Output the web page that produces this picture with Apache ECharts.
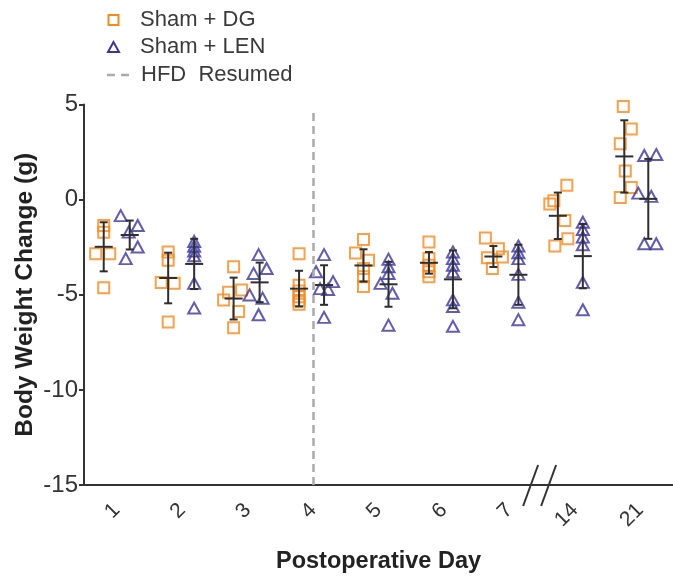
<!DOCTYPE html>
<html>
<head>
<meta charset="utf-8">
<script src="https://cdn.jsdelivr.net/npm/echarts@6/dist/echarts.min.js"></script>
<style>
html,body{margin:0;padding:0;background:#fff;}
#chart{width:673px;height:579px;}
</style>
</head>
<body>
<div id="chart"></div>
<script>
const days = ['1','2','3','4','5','6','7','14','21'];
const yTicks = [-15, -10, -5, 0, 5];

const dgValues = [
  [-1.36,-1.71,-2.84,-2.84,-4.63],
  [-2.75,-3.19,-4.35,-4.40,-6.43],
  [-3.53,-4.75,-4.87,-5.27,-5.88,-6.74],
  [-2.84,-4.50,-4.80,-5.10,-5.30,-5.50],
  [-2.09,-2.80,-3.19,-3.62,-4.05,-4.57],
  [-2.23,-3.10,-3.45,-3.79,-4.05],
  [-2.02,-2.58,-3.06,-3.01,-3.62],
  [0.76,-0.06,-0.23,-1.10,-2.06,-2.44],
  [4.89,3.71,2.94,1.50,0.64,0.11]
];
const lenValues = [
  [-0.84,-1.36,-1.71,-2.49,-3.10],
  [-2.20,-2.45,-2.70,-2.95,-4.40,-5.70],
  [-2.89,-3.62,-3.88,-5.01,-5.18,-6.05],
  [-2.89,-3.79,-4.31,-4.68,-4.72,-6.19],
  [-3.13,-3.53,-3.88,-4.40,-4.92,-6.60],
  [-2.75,-3.10,-3.45,-3.79,-5.27,-5.62,-6.66],
  [-2.44,-2.79,-3.10,-3.93,-5.39,-6.31],
  [-1.19,-1.57,-1.97,-2.37,-4.35,-5.79],
  [2.32,2.37,0.34,0.17,-2.32,-2.32]
];
const dgMean = [-2.48,-4.12,-5.20,-4.68,-3.46,-3.32,-2.99,-0.85,2.27];
const dgSD   = [1.29,1.33,1.10,0.94,0.85,0.57,0.55,1.22,1.90];
const lenMean = [-1.86,-3.38,-4.35,-4.49,-4.45,-4.19,-3.95,-2.97,0.04];
const lenSD   = [0.76,1.32,1.04,1.04,1.18,1.52,1.58,1.69,2.10];
const hfdResumedDay = '4';
const hfdTop = 4.55;

// layout: horizontal pixel offsets (jitter) from the category centre
const dgJitter = [
  [-13,-13,-21,-7,-13],
  [-14,-14,-21,-8,-14],
  [-14,-6,-19,-24,-9,-14],
  [-14,-14,-14,-14,-14,-14],
  [-15,-23,-10,-15,-15,-15],
  [-15,-15,-15,-15,-15],
  [-24,-11,-22,-7,-17],
  [-8,-21,-25,-10,-7,-20],
  [-17,-9,-20,-15,-9,-20]
];
const lenJitter = [
  [4,21,12,21,9],
  [12,12,12,12,12,12],
  [11,19,6,2,15,11],
  [11,3,20,7,15,11],
  [10,10,10,2,14,10],
  [9,9,9,9,9,9,9],
  [9,9,9,9,9,9],
  [8,8,8,8,8,8],
  [4,16,-2,11,4,16]
];
const dgBarOffset = [-13,-14,-14,-14,-15,-15,-16,-17,-16];
const lenBarOffset = [13,12,12,11,10,9,9,8,8];

const ORANGE = '#F58A1F';
const BLUE = '#3B3598';
const FONT = 'Liberation Sans, Arial, sans-serif';

function pointData(values, jitter) {
  const out = [];
  values.forEach((arr, i) => {
    arr.forEach((v, k) => {
      out.push({ value: [i, v], symbolOffset: [jitter[i][k], 0] });
    });
  });
  return out;
}

function barData(mean, sd) {
  return mean.map((m, i) => [i, m, sd[i]]);
}

function makeErrRender(offsets) {
  return function (params, api) {
    const i = api.value(0), m = api.value(1), sd = api.value(2);
    const pm = api.coord([i, m]);
    const pt = api.coord([i, m + sd]);
    const pb = api.coord([i, m - sd]);
    const x = pm[0] + offsets[params.dataIndex];
    const st = { stroke: '#2e2e2e', lineWidth: 2 };
    return {
      type: 'group',
      children: [
        { type: 'line', shape: { x1: x, y1: pt[1], x2: x, y2: pb[1] }, style: st },
        { type: 'line', shape: { x1: x - 4, y1: pt[1], x2: x + 4, y2: pt[1] }, style: st },
        { type: 'line', shape: { x1: x - 4, y1: pb[1], x2: x + 4, y2: pb[1] }, style: st },
        { type: 'line', shape: { x1: x - 9, y1: pm[1], x2: x + 9, y2: pm[1] }, style: st }
      ]
    };
  };
}

const chart = echarts.init(document.getElementById('chart'), null, { renderer: 'canvas' });

const option = {
  backgroundColor: '#fff',
  animation: false,
  textStyle: { fontFamily: FONT },
  grid: { left: 84, right: -2, top: 104.5, bottom: 90.5 },
  xAxis: {
    type: 'category',
    data: days,
    boundaryGap: true,
    axisLine: { onZero: false, lineStyle: { color: '#333', width: 2 } },
    axisTick: { alignWithLabel: true, length: 5, lineStyle: { color: '#333', width: 2 } },
    axisLabel: { rotate: 45, fontSize: 21, color: '#333', margin: 22, fontFamily: FONT },
    splitLine: { show: false },
    name: 'Postoperative Day',
    nameLocation: 'middle',
    nameGap: 65,
    nameMoveOverlap: false,
    nameTextStyle: { fontSize: 23.5, fontWeight: 'bold', color: '#222', fontFamily: FONT }
  },
  yAxis: {
    type: 'value',
    min: yTicks[0],
    max: yTicks[yTicks.length - 1],
    interval: 5,
    axisLine: { show: true, lineStyle: { color: '#333', width: 2 } },
    axisTick: { show: true, length: 5, lineStyle: { color: '#333', width: 2 } },
    axisLabel: { fontSize: 24, color: '#333', margin: 6, fontFamily: FONT },
    splitLine: { show: false },
    name: 'Body Weight Change (g)',
    nameLocation: 'middle',
    nameGap: 46,
    nameMoveOverlap: false,
    nameTextStyle: { fontSize: 24.5, fontWeight: 'bold', color: '#222', fontFamily: FONT }
  },
  series: [
    {
      name: 'Sham + DG',
      type: 'scatter',
      symbol: 'rect',
      symbolSize: 11,
      itemStyle: { color: 'rgba(0,0,0,0)', borderColor: ORANGE, borderWidth: 2 },
      data: pointData(dgValues, dgJitter),
      z: 3,
      markLine: {
        silent: true,
        symbol: ['none', 'none'],
        label: { show: false },
        lineStyle: { color: '#ABABAB', width: 2.5, type: [8, 5] },
        data: [[{ coord: [days.indexOf(hfdResumedDay), hfdTop] }, { coord: [days.indexOf(hfdResumedDay), yTicks[0]] }]]
      }
    },
    {
      name: 'Sham + LEN',
      type: 'scatter',
      symbol: 'triangle',
      symbolSize: [12, 11],
      itemStyle: { color: 'rgba(0,0,0,0)', borderColor: BLUE, borderWidth: 2 },
      data: pointData(lenValues, lenJitter),
      z: 3
    },
    {
      type: 'custom',
      renderItem: makeErrRender(dgBarOffset),
      data: barData(dgMean, dgSD),
      encode: { x: 0, y: 1 },
      z: 5
    },
    {
      type: 'custom',
      renderItem: makeErrRender(lenBarOffset),
      data: barData(lenMean, lenSD),
      encode: { x: 0, y: 1 },
      z: 5
    }
  ]
};
chart.setOption(option);

// legend + axis break decorations
const axisY = chart.convertToPixel({ yAxisIndex: 0 }, yTicks[0]);
const x7 = chart.convertToPixel({ xAxisIndex: 0 }, 6);
const x14 = chart.convertToPixel({ xAxisIndex: 0 }, 7);
const mid = (x7 + x14) / 2;
const brk = { stroke: '#333', lineWidth: 2 };
const legText = { fontSize: 22, fill: '#3a3a3a', fontFamily: FONT, verticalAlign: 'middle', align: 'left' };

chart.setOption({
  graphic: [
    { type: 'line', shape: { x1: mid - 4, y1: axisY - 20, x2: mid - 19, y2: axisY + 21 }, style: brk, z: 10 },
    { type: 'line', shape: { x1: mid + 14, y1: axisY - 20, x2: mid - 1, y2: axisY + 21 }, style: brk, z: 10 },

    { type: 'rect', shape: { x: 108.5, y: 15, width: 10, height: 10 }, style: { fill: 'none', stroke: ORANGE, lineWidth: 2 } },
    { type: 'text', x: 140, y: 20, style: Object.assign({ text: 'Sham + DG' }, legText) },
    { type: 'polygon', shape: { points: [[113.5, 42], [108, 52], [119, 52]] }, style: { fill: 'none', stroke: BLUE, lineWidth: 2 } },
    { type: 'text', x: 140, y: 47, style: Object.assign({ text: 'Sham + LEN' }, legText) },
    { type: 'line', shape: { x1: 107, y1: 75, x2: 115, y2: 75 }, style: { stroke: '#ABABAB', lineWidth: 2.5 } },
    { type: 'line', shape: { x1: 121, y1: 75, x2: 129, y2: 75 }, style: { stroke: '#ABABAB', lineWidth: 2.5 } },
    { type: 'text', x: 141, y: 75, style: Object.assign({ text: 'HFD  Resumed' }, legText) }
  ]
});
</script>
</body>
</html>
